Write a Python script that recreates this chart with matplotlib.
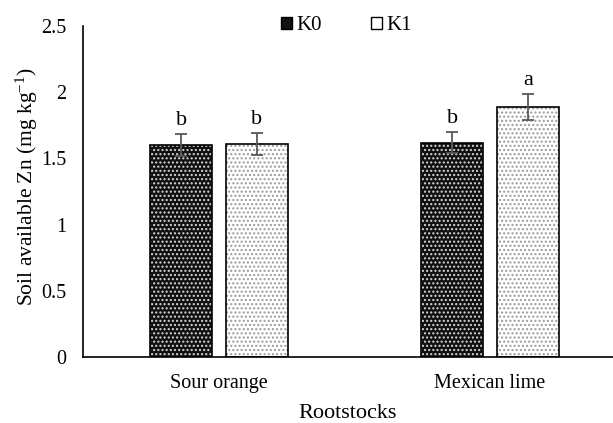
import matplotlib
matplotlib.use("Agg")
import matplotlib.pyplot as plt
import numpy as np
from matplotlib.patches import Patch

plt.rcParams['font.family'] = ['Liberation Serif', 'DejaVu Serif']
plt.rcParams['mathtext.fontset'] = 'custom'
plt.rcParams['mathtext.rm'] = 'Liberation Serif'
plt.rcParams['mathtext.it'] = 'Liberation Serif:italic'
plt.rcParams['hatch.linewidth'] = 1.0

categories = ["Sour orange", "Mexican lime"]
series_names = ["K0", "K1"]
k0_values = [1.60, 1.62]
k1_values = [1.61, 1.89]
k0_err = [0.085, 0.08]
k1_err = [0.085, 0.10]
k0_letters = ["b", "b"]
k1_letters = ["b", "a"]
yticks = [0, 0.5, 1, 1.5, 2, 2.5]
ytick_labels = ["0", "0.5", "1", "1.5", "2", "2.5"]

fig = plt.figure(figsize=(6.13, 4.23), dpi=100)
ax = fig.add_axes([0.1354, 0.156, 0.8646, 0.7825])

x = np.arange(len(categories))
w = 0.229
off = 0.14

styles = [
    dict(face='#111111', hatch_col='#d8d8d8'),
    dict(face='#ffffff', hatch_col='#9a9a9a'),
]
vals = [k0_values, k1_values]
errs = [k0_err, k1_err]
letters = [k0_letters, k1_letters]
for i, (v, e, l, st) in enumerate(zip(vals, errs, letters, styles)):
    pos = x + (i - 0.5) * 2 * off
    ax.bar(pos, v, w, color=st['face'], edgecolor=st['hatch_col'], hatch='....', linewidth=0, zorder=2)
    ax.bar(pos, v, w, fill=False, edgecolor='black', linewidth=1.2, zorder=3)
    ax.errorbar(pos, v, yerr=e, fmt='none', ecolor='#595959', elinewidth=1.3, capsize=4, capthick=1.3, zorder=4)
    for p, vv, ee, ll in zip(pos, v, e, l):
        ax.text(p, vv + ee + 0.03, ll, ha='center', va='bottom', fontsize=16)

ax.set_xlim(-0.502, 1.454)
ax.set_ylim(0, 2.5)
ax.set_yticks(yticks)
ax.set_yticklabels(ytick_labels, fontsize=14.5)
ax.set_xticks(x)
ax.set_xticklabels(categories, fontsize=14.5)
ax.tick_params(axis='x', length=0, pad=12)
ax.tick_params(axis='y', length=0, pad=12)
ax.spines['top'].set_visible(False)
ax.spines['right'].set_visible(False)
ax.spines['left'].set_linewidth(1.2)
ax.spines['bottom'].set_linewidth(1.2)

ax.set_xlabel("Rootstocks", fontsize=16, labelpad=8)
ax.set_ylabel("Soil available Zn (mg kg$^{\\mathregular{-1}}$)", fontsize=15.5)
ax.yaxis.set_label_coords(-0.081, 0.515)

handles = [Patch(facecolor=st['face'], edgecolor='black', linewidth=1.0) for st in styles]
leg = fig.legend(handles, series_names, loc='center', bbox_to_anchor=(0.565, 0.939), ncol=2,
                 frameon=False, fontsize=15, handlelength=0.55, handleheight=0.55,
                 handletextpad=0.2, columnspacing=2.35)

fig.savefig("out.png", dpi=100)
